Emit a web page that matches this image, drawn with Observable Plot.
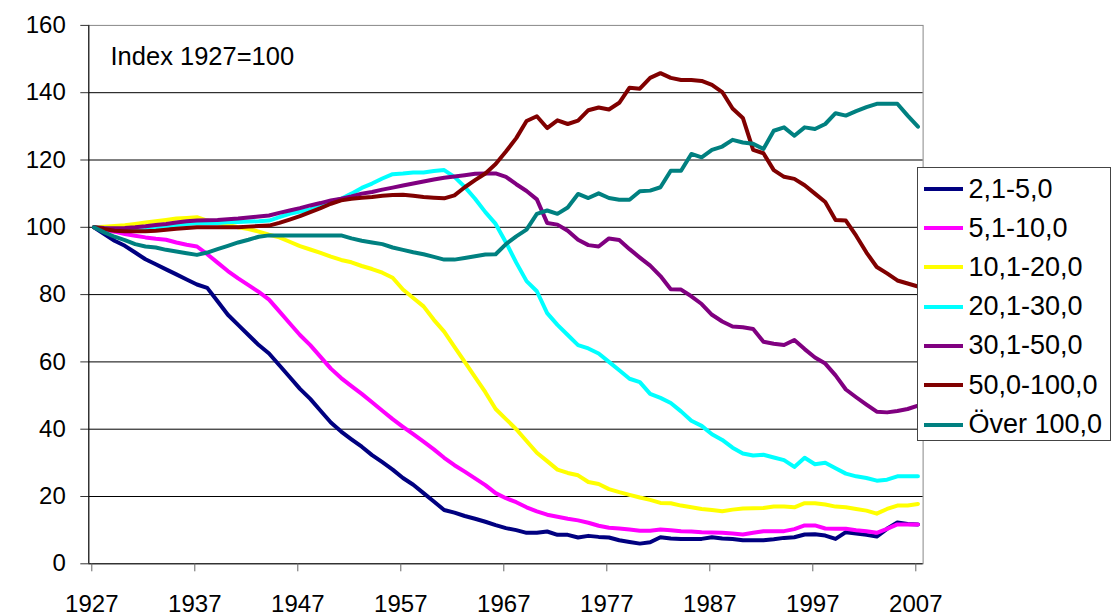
<!DOCTYPE html>
<html>
<head>
<meta charset="utf-8">
<script src="https://cdn.jsdelivr.net/npm/d3@7"></script>
<script src="https://cdn.jsdelivr.net/npm/@observablehq/plot@0.6"></script>
<style>
  html, body { margin: 0; padding: 0; background: #fff; overflow: hidden; }
  #wrap { position: relative; width: 1112px; height: 616px; font-family: "Liberation Sans", Arial, sans-serif; }
  #legend { position: absolute; left: 916.5px; top: 167px; width: 194px; height: 274px; border: 1px solid #444; background: #fff; box-sizing: border-box; }
  .item { position: absolute; left: 0; height: 30px; display: flex; align-items: center; font-size: 27px; color: #000; white-space: nowrap; }
  .item svg { margin-left: 6px; margin-right: 6px; }
</style>
</head>
<body>
<div id="wrap"><div id="chart"></div><div id="legend"></div></div>
<script>
// Categories
const years = d3.range(1927, 2008);
const xTicks = [1927, 1937, 1947, 1957, 1967, 1977, 1987, 1997, 2007];
const yTicks = [0, 20, 40, 60, 80, 100, 120, 140, 160];
const seriesNames = ["2,1-5,0", "5,1-10,0", "10,1-20,0", "20,1-30,0", "30,1-50,0", "50,0-100,0", "Över 100,0"];
const seriesColors = ["#000080", "#FF00FF", "#FFFF00", "#00FFFF", "#800080", "#800000", "#008080"];
const annotation = "Index 1927=100";

// Series values, 1927..2007
const s2_5 = [100,98,96,94.5,92.5,90.5,89,87.5,86,84.5,83,82,78,74,71,68,65,62.5,59,55.5,52,49,45.5,42,39.3,37,34.8,32.3,30.2,28,25.5,23.5,21,18.5,16,15.2,14.2,13.4,12.5,11.5,10.6,10,9.2,9.2,9.6,8.6,8.6,7.8,8.3,8,7.8,7,6.5,6,6.4,7.9,7.5,7.4,7.4,7.4,7.9,7.5,7.4,7,7,7,7.3,7.7,7.9,8.7,8.8,8.4,7.4,9.4,9,8.6,8.1,10.4,12.3,11.8,11.7];
const s5_10 = [100,99.3,98.7,98,97.5,97,96.6,96.3,95.5,94.8,94.3,92,89.5,87,84.8,82.8,80.8,78.5,75,71.5,68,65,61.5,58,55.2,52.8,50.5,48,45.5,43,40.7,38.5,36.3,34,31.5,29.3,27.4,25.4,23.4,21,19.5,18.3,16.8,15.6,14.6,14,13.4,12.9,12.2,11.3,10.7,10.5,10.2,9.8,9.8,10.2,10,9.7,9.6,9.4,9.3,9.2,9,8.7,9.2,9.7,9.7,9.7,10.3,11.4,11.4,10.5,10.4,10.4,10,9.7,9.2,10.4,11.7,11.7,11.7];
const s10_20 = [100,100.2,100.4,100.6,101,101.4,101.8,102.2,102.6,102.8,103,102,101.3,100.7,100,99.5,98.7,97.8,97,95.7,94.4,93.4,92.4,91.3,90.3,89.6,88.5,87.6,86.5,85,81.5,79,76.5,72.5,69,64.5,60,55.5,51,46,43,40,36.5,33,30.5,28,27,26.3,24.3,23.7,22.2,21.3,20.5,19.7,19,18.1,18,17.3,16.8,16.3,16,15.6,16.1,16.4,16.5,16.6,17,17,16.8,18,18,17.6,17,16.8,16.3,15.8,14.9,16.3,17.3,17.3,17.8];
const s20_30 = [100,99.7,99.3,99,99,99.2,99.8,100.3,100.7,101,101.2,101.2,101.3,101.5,101.6,101.7,101.8,102,103,104,104.7,105.3,106.3,107.5,108.5,110,111.7,113,114.5,115.8,116,116.3,116.3,116.7,117,115,112,108.5,104.5,101,95.5,89.5,84,81,74.5,71,68,65,64,62.5,60,57.5,55,54,50.5,49.3,47.8,45.3,42.5,41,38.5,36.8,34.5,32.8,32.2,32.4,31.6,30.8,28.8,31.5,29.6,30,28.4,26.8,26,25.5,24.7,25,26,26,26];
const s30_50 = [100,99.8,99.7,99.8,100,100.3,100.7,101,101.4,101.8,102,102.1,102.2,102.4,102.6,102.9,103.2,103.5,104.3,105,105.7,106.5,107.2,108,108.5,109.2,110,110.5,111.2,111.8,112.4,113,113.6,114.2,114.7,115.1,115.5,115.9,116,116,115,112.8,110.8,108.3,101.3,100.8,99,96.3,94.7,94.3,96.7,96.2,93.5,91,88.6,85.5,81.6,81.5,79.5,77.2,74,72,70.5,70.3,69.8,66,65.4,65,66.5,63.8,61.3,59.5,56,51.8,49.5,47.3,45.2,45,45.4,46,47];
const s50_100 = [100,99.5,99,98.8,98.8,98.8,99,99.3,99.6,99.8,100,100,100,100,100,100.2,100.4,100.5,101.3,102.3,103.3,104.5,105.7,107,108,108.5,108.8,109,109.4,109.6,109.7,109.4,109,108.8,108.6,109.5,111.9,114,116,118.8,122.5,126.5,131.6,133,129.5,131.8,130.7,131.7,134.8,135.6,135,137,141.5,141.2,144.4,145.8,144.4,143.8,143.8,143.5,142.3,140.2,135.3,132.5,123,122,117,115,114.4,112.5,110,107.5,102.2,102,97.5,92.5,88.2,86.3,84.2,83.3,82.4];
const sOver100 = [100,98.5,97.2,96.2,95,94.3,94,93.3,92.8,92.3,91.8,92.5,93.5,94.5,95.5,96.3,97.2,97.6,97.6,97.6,97.6,97.6,97.6,97.6,97.6,96.7,96,95.5,95,94,93.3,92.6,92,91.2,90.4,90.4,90.9,91.4,91.9,92,95,97.3,99.3,104,105,104,105.9,109.9,108.7,110.1,108.7,108.2,108.2,110.7,110.9,111.9,116.8,116.8,121.8,120.8,123,124,126,125.2,124.8,123.3,128.7,129.7,127.2,129.7,129.2,130.7,133.9,133.2,134.5,135.7,136.7,136.7,136.7,133.2,129.9];

const allSeries = [s2_5, s5_10, s10_20, s20_30, s30_50, s50_100, sOver100];
const data = allSeries.flatMap((vals, i) => vals.map((v, j) => ({year: years[j], value: v, series: seriesNames[i]})));

const chart = Plot.plot({
  width: 1112,
  height: 616,
  marginLeft: 88.3,
  marginRight: 189.4,
  marginTop: 24.9,
  marginBottom: 52.7,
  style: {fontFamily: "'Liberation Sans', Arial, sans-serif", fontSize: "24px", background: "#fff", color: "#000", overflow: "visible"},
  x: {domain: [1927, 2008]},
  y: {domain: [0, 160]},
  color: {domain: seriesNames, range: seriesColors},
  marks: [
    Plot.frame({stroke: "#888"}),
    Plot.ruleY(yTicks.filter(d => d > 0 && d < 160), {stroke: "#000", strokeWidth: 1}),
    Plot.ruleX([1927], {stroke: "#000"}),
    Plot.ruleY([0], {stroke: "#000"}),
    Plot.axisY({ticks: yTicks, tickSize: 8, tickPadding: 15, label: null, fontSize: 24, stroke: "#333"}),
    Plot.axisX({ticks: xTicks, tickSize: 8, tickPadding: 23, dx: 3, label: null, tickFormat: d => String(d), fontSize: 24, stroke: "#666"}),
    Plot.line(data, {x: d => d.year + 0.5, y: "value", z: "series", stroke: "series", strokeWidth: 4, strokeLinejoin: "round", strokeLinecap: "round"}),
    Plot.text([annotation], {frameAnchor: "top-left", dx: 21.7, dy: 31, textAnchor: "start", lineAnchor: "middle", fontSize: 25.5, fill: "#000"})
  ]
});
document.getElementById("chart").appendChild(chart);

// Legend
const legend = document.getElementById("legend");
const rowCenters = [22, 61, 100.3, 139.6, 178.9, 218.2, 257.5];
seriesNames.forEach((name, i) => {
  const row = document.createElement("div");
  row.className = "item";
  row.style.top = (rowCenters[i] - 15 - 1) + "px";
  row.innerHTML = `<svg width="39" height="8"><line x1="0" y1="4" x2="39" y2="4" stroke="${seriesColors[i]}" stroke-width="4"/></svg><span>${name}</span>`;
  legend.appendChild(row);
});
</script>
</body>
</html>
